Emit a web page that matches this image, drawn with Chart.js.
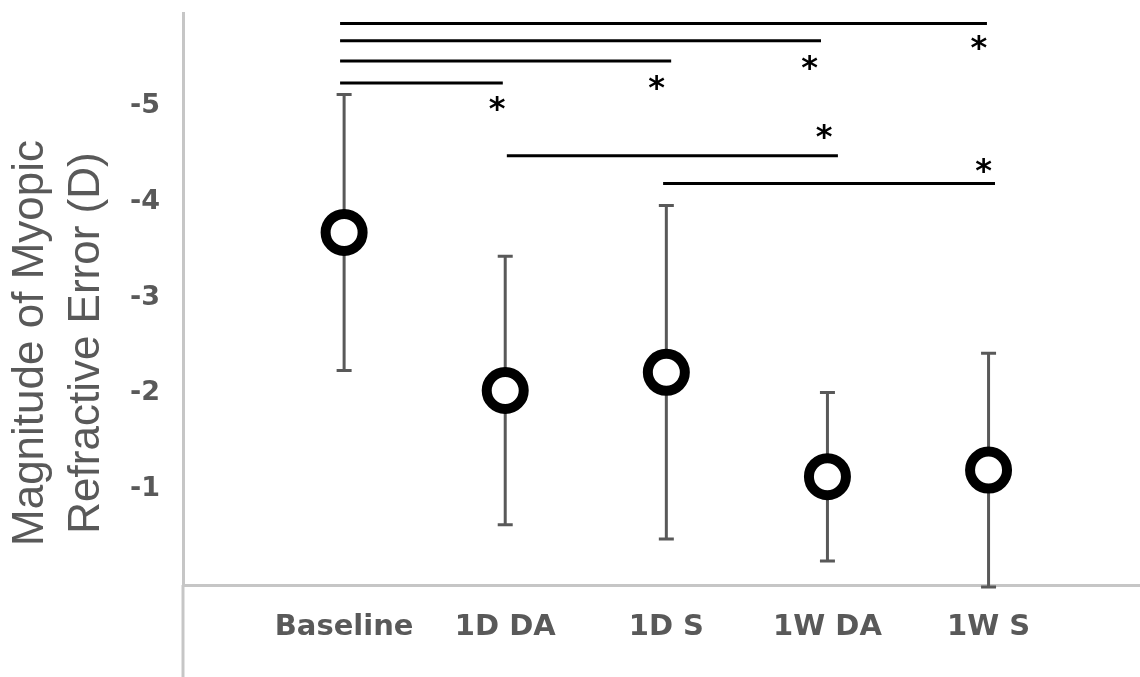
<!DOCTYPE html>
<html>
<head>
<meta charset="utf-8">
<script src="https://cdn.jsdelivr.net/npm/chart.js@4.4.1/dist/chart.umd.min.js"></script>
<style>
  html, body { margin: 0; padding: 0; background: #ffffff; }
  canvas { display: block; }
</style>
</head>
<body>
<canvas id="chart" width="1140" height="677"></canvas>
<script>
// Group means and standard deviations of myopic refractive error magnitude (D)
const categories = ['Baseline', '1D DA', '1D S', '1W DA', '1W S'];
const meanMagnitude = [3.68, 2.03, 2.22, 1.13, 1.20];
const sdMagnitude = [1.44, 1.40, 1.74, 0.88, 1.22];

// Vertical axis ticks (magnitude shown as negative dioptres)
const yTickValues = [1, 2, 3, 4, 5];
const yTickLabels = ['-1', '-2', '-3', '-4', '-5'];

// Significance brackets: start / end along the group axis, height in D
const sigStart = [0.975, 0.975, 0.975, 0.975, 2.01, 2.98];
const sigEnd = [4.99, 3.96, 3.03, 1.985, 4.065, 5.04];
const sigLevel = [5.86, 5.68, 5.47, 5.24, 4.48, 4.19];

// Asterisk markers for significant pairs
const starX = [4.94, 3.89, 2.94, 1.95, 3.98, 4.97];
const starY = [5.66, 5.45, 5.24, 5.03, 4.73, 4.38];

const yTitleLines = ['Magnitude of Myopic', 'Refractive Error (D)'];

const GREY_TEXT = '#595959';
const AXIS_GREY = '#c6c6c6';

const pointData = categories.map((c, i) => ({ x: i + 1, y: meanMagnitude[i] }));

const bracketSets = sigStart.map((s, i) => ({
  type: 'line',
  data: [{ x: s, y: sigLevel[i] }, { x: sigEnd[i], y: sigLevel[i] }],
  borderColor: '#000000',
  borderWidth: 3,
  pointRadius: 0,
  showLine: true,
  clip: false,
  order: 2
}));

// Error bars (mean ± SD) drawn beneath the markers
const errorBars = {
  id: 'errorBars',
  beforeDatasetsDraw(chart) {
    const { ctx, scales: { x, y } } = chart;
    ctx.save();
    ctx.strokeStyle = '#595959';
    ctx.lineWidth = 3;
    const cap = 7.5;
    meanMagnitude.forEach((m, i) => {
      const px = x.getPixelForValue(i + 1);
      const top = y.getPixelForValue(m + sdMagnitude[i]);
      const bot = y.getPixelForValue(m - sdMagnitude[i]);
      ctx.beginPath();
      ctx.moveTo(px, top); ctx.lineTo(px, bot);
      ctx.moveTo(px - cap, top); ctx.lineTo(px + cap, top);
      ctx.moveTo(px - cap, bot); ctx.lineTo(px + cap, bot);
      ctx.stroke();
    });
    ctx.restore();
  }
};

// Asterisks, y-axis title and the axis line running below the baseline
const annotations = {
  id: 'annotations',
  afterDraw(chart) {
    const { ctx, scales: { x, y }, chartArea } = chart;
    ctx.save();

    ctx.strokeStyle = AXIS_GREY;
    ctx.lineWidth = 3;
    ctx.beginPath();
    ctx.moveTo(chartArea.left, chartArea.bottom);
    ctx.lineTo(chartArea.left, chart.height);
    ctx.stroke();

    ctx.fillStyle = '#000000';
    ctx.font = 'bold 32px "DejaVu Sans"';
    ctx.textAlign = 'center';
    ctx.textBaseline = 'alphabetic';
    const m = ctx.measureText('*');
    const shift = (m.actualBoundingBoxAscent - m.actualBoundingBoxDescent) / 2;
    starX.forEach((sx, i) => {
      ctx.fillText('*', x.getPixelForValue(sx), y.getPixelForValue(starY[i]) + shift);
    });

    ctx.fillStyle = GREY_TEXT;
    ctx.font = '44px "Liberation Sans"';
    ctx.textAlign = 'center';
    ctx.textBaseline = 'middle';
    const titleCenterY = 343;
    const lineX = [31, 86.5];
    yTitleLines.forEach((t, i) => {
      ctx.save();
      ctx.translate(lineX[i], titleCenterY);
      ctx.rotate(-Math.PI / 2);
      ctx.fillText(t, 0, 0);
      ctx.restore();
    });
    ctx.restore();
  }
};

new Chart(document.getElementById('chart'), {
  type: 'scatter',
  data: {
    datasets: [
      {
        type: 'scatter',
        data: pointData,
        pointStyle: 'circle',
        pointRadius: 18.5,
        pointHoverRadius: 18.5,
        pointBorderWidth: 10,
        pointBackgroundColor: '#ffffff',
        pointBorderColor: '#000000',
        showLine: false,
        clip: false,
        order: 1
      },
      ...bracketSets
    ]
  },
  plugins: [errorBars, annotations],
  options: {
    responsive: false,
    animation: false,
    events: [],
    layout: { autoPadding: false, padding: { top: 13, right: 0, bottom: 0, left: 0 } },
    plugins: {
      legend: { display: false },
      tooltip: { enabled: false },
      title: { display: false }
    },
    scales: {
      x: {
        type: 'linear',
        min: 0,
        max: 5.94,
        grid: { display: false, drawTicks: false },
        border: { display: true, color: AXIS_GREY, width: 3 },
        afterFit(scale) {
          scale.height = 92;
          scale.paddingLeft = 0;
          scale.paddingRight = 0;
        },
        afterBuildTicks(scale) {
          scale.ticks = categories.map((c, i) => ({ value: i + 1 }));
        },
        ticks: {
          autoSkip: false,
          maxRotation: 0,
          padding: 25,
          color: GREY_TEXT,
          font: { family: 'DejaVu Sans', size: 29, weight: 'bold' },
          callback: (v) => categories[Math.round(v) - 1]
        }
      },
      y: {
        type: 'linear',
        min: 0,
        max: 5.97,
        grid: { display: false, drawTicks: false },
        border: { display: true, color: AXIS_GREY, width: 3 },
        afterFit(scale) {
          scale.width = 183;
          scale.paddingTop = 0;
          scale.paddingBottom = 0;
        },
        afterBuildTicks(scale) {
          scale.ticks = yTickValues.map(v => ({ value: v }));
        },
        ticks: {
          padding: 23,
          color: GREY_TEXT,
          font: { family: 'DejaVu Sans', size: 27, weight: 'bold' },
          callback: (v) => yTickLabels[yTickValues.indexOf(v)]
        }
      }
    }
  }
});
</script>
</body>
</html>
